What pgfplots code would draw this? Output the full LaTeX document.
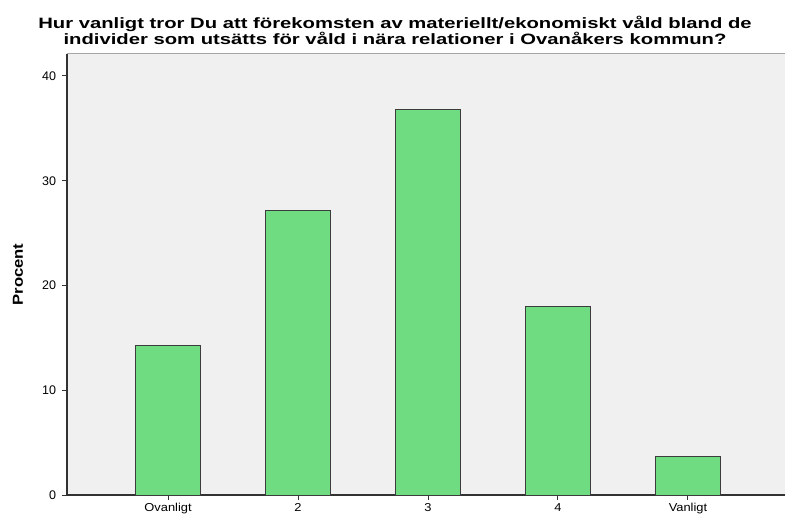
\documentclass[border=0pt]{standalone}
\usepackage{fontspec}
\setmainfont{Liberation Sans}
\usepackage{pgfplots}
\pgfplotsset{compat=1.18}
\definecolor{barfill}{RGB}{112,220,130}
\definecolor{bardraw}{RGB}{60,60,60}
\definecolor{bgc}{RGB}{240,240,240}
\definecolor{axc}{RGB}{50,50,50}
\begin{document}
\begin{tikzpicture}[x=1pt,y=1pt]
\useasboundingbox (0,0) rectangle (785,517);
\begin{axis}[
  at={(67pt,22pt)}, anchor=south west,
  scale only axis, width=722pt, height=441pt,
  xmin=-0.777, xmax=4.777, ymin=0, ymax=42.1,
  axis x line*=bottom, axis y line*=left,
  axis line style={axc, line width=1.2pt},
  axis background/.style={fill=bgc, draw=gray!70, line width=1pt},
  xtick={0,1,2,3,4},
  xticklabels={Ovanligt,2,3,4,Vanligt},
  ytick={0,10,20,30,40},
  tick align=outside, major tick length=5pt,
  tick style={axc, line width=1pt},
  /pgf/number format/assume math mode=true,
  y tick label style={font=\fontsize{12.5}{14}\selectfont, xshift=-2.5pt},
  x tick label style={font=\fontsize{11.5}{13}\selectfont, xscale=1.12},
  ylabel={Procent},
  every axis y label/.style={at={(-49pt,220.5pt)}, rotate=90, anchor=center,
     font=\bfseries\fontsize{14.5}{16}\selectfont, xscale=1.15},
  ybar, bar width=65pt,
]
\addplot[fill=barfill, draw=bardraw, line width=1pt] coordinates {
  (0,14.3) (1,27.2) (2,36.8) (3,18.0) (4,3.7)
};
\end{axis}
\node[font=\bfseries\fontsize{15}{16}\selectfont, align=center, xscale=1.35] at (395,487)
  {Hur vanligt tror Du att förekomsten av materiellt/ekonomiskt våld bland de\\
   individer som utsätts för våld i nära relationer i Ovanåkers kommun?};
\end{tikzpicture}
\end{document}
